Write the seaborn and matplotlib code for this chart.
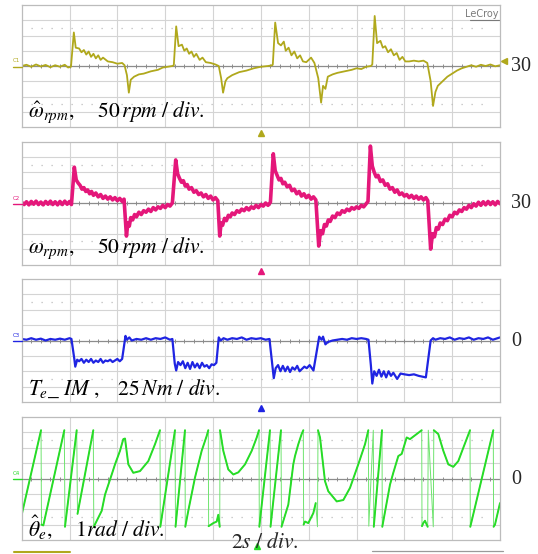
import numpy as np
import pandas as pd
import matplotlib
matplotlib.use("Agg")
import matplotlib.pyplot as plt
from matplotlib.lines import Line2D
import seaborn as sns

# ---------------- data (time in divisions, 2 s/div; values in divisions) -------------
# Panel 1: estimated speed  (50 rpm/div, centre = 30 rpm)
w_hat_t = [0.00, 0.10, 0.20, 0.30, 0.40, 0.50, 0.60, 0.70, 0.80, 0.90, 0.97, 1.03,
           1.09, 1.13, 1.20, 1.25, 1.30, 1.35, 1.40, 1.45, 1.50, 1.55, 1.60, 1.65, 1.70, 1.80, 1.90, 2.00, 2.10, 2.15,
           2.20, 2.24, 2.28, 2.35, 2.45, 2.55, 2.70, 2.85, 2.95, 3.05, 3.15,
           3.18, 3.23, 3.28, 3.35, 3.40, 3.45, 3.50, 3.55, 3.60, 3.65, 3.72, 3.78, 3.85, 3.95, 4.05, 4.12,
           4.17, 4.21, 4.26, 4.30, 4.40, 4.55, 4.70, 4.85, 5.00, 5.15, 5.24,
           5.25, 5.30, 5.36, 5.42, 5.48, 5.52, 5.58, 5.64, 5.70, 5.76, 5.82, 5.88, 5.95, 6.05, 6.12,
           6.20, 6.26, 6.30, 6.35, 6.40, 6.50, 6.60, 6.75, 6.90, 7.00, 7.10, 7.20, 7.30,
           7.33, 7.38, 7.43, 7.50, 7.55, 7.60, 7.66, 7.72, 7.78, 7.84, 7.90, 7.96, 8.02, 8.10, 8.20, 8.30, 8.40, 8.48,
           8.55, 8.60, 8.65, 8.70, 8.80, 8.90, 9.00, 9.10, 9.20, 9.30, 9.40, 9.50, 9.60, 9.70, 9.80, 9.90, 10.00]
w_hat_v = [0.00, 0.08, -0.05, 0.10, -0.03, 0.07, -0.08, 0.05, -0.05, 0.08, -0.10, -0.05,
           2.20, 1.20, 1.15, 0.90, 1.05, 0.75, 0.95, 0.60, 0.80, 0.50, 0.70, 0.40, 0.55, 0.30, 0.25, 0.15, 0.20, 0.05,
           -0.60, -1.75, -0.90, -0.70, -0.55, -0.50, -0.35, -0.25, -0.10, -0.05, 0.00,
           0.05, 2.60, 1.30, 1.40, 1.00, 1.15, 0.80, 0.95, 0.60, 0.80, 0.40, 0.55, 0.25, 0.20, 0.10, 0.00,
           -0.80, -1.75, -1.00, -0.80, -0.60, -0.40, -0.30, -0.15, -0.05, 0.00, 0.05,
           0.10, 2.85, 1.50, 1.35, 1.60, 1.00, 1.20, 0.70, 0.95, 0.50, 0.70, 0.30, 0.25, 0.55, 0.20,
           -0.80, -2.40, -1.30, -1.50, -0.70, -0.55, -0.45, -0.35, -0.25, -0.15, -0.20, -0.05, 0.00,
           0.10, 3.28, 1.50, 1.65, 1.20, 1.30, 0.90, 1.10, 0.70, 0.85, 0.40, 0.60, 0.30, 0.30, 0.35, 0.30, 0.35, 0.20,
           -1.00, -2.62, -1.70, -1.30, -1.00, -0.70, -0.50, -0.30, -0.15, -0.05, 0.05, -0.05, 0.08, 0.00, 0.10, -0.02, 0.05]

# Panel 2: measured speed (50 rpm/div, centre = 30 rpm)
w_t = [0.00, 0.05, 0.10, 0.15, 0.20, 0.25, 0.30, 0.35, 0.40, 0.45, 0.50, 0.55, 0.60, 0.65, 0.70, 0.75,
       0.80, 0.85, 0.90, 0.95, 1.00, 1.04,
       1.10, 1.14, 1.18, 1.22, 1.26, 1.30, 1.34, 1.38, 1.42, 1.46, 1.50, 1.55, 1.60, 1.65, 1.70, 1.75,
       1.80, 1.85, 1.90, 1.95, 2.00, 2.05, 2.10, 2.14,
       2.19, 2.22, 2.25, 2.28, 2.32, 2.36, 2.40, 2.45, 2.50, 2.55, 2.60, 2.65, 2.70, 2.75, 2.80, 2.85,
       2.90, 2.95, 3.00, 3.05, 3.10, 3.15,
       3.22, 3.26, 3.30, 3.34, 3.38, 3.42, 3.46, 3.50, 3.55, 3.60, 3.65, 3.70, 3.75, 3.80, 3.85, 3.90,
       3.95, 4.00, 4.05, 4.10,
       4.14, 4.17, 4.20, 4.24, 4.28, 4.32, 4.36, 4.40, 4.45, 4.50, 4.55, 4.60, 4.65, 4.70, 4.75, 4.80,
       4.85, 4.90, 4.95, 5.00, 5.05, 5.10, 5.15, 5.20,
       5.26, 5.30, 5.34, 5.38, 5.42, 5.46, 5.50, 5.55, 5.60, 5.65, 5.70, 5.75, 5.80, 5.85, 5.90, 5.95,
       6.00, 6.05, 6.10, 6.15,
       6.21, 6.25, 6.29, 6.33, 6.37, 6.41, 6.45, 6.50, 6.55, 6.60, 6.65, 6.70, 6.75, 6.80, 6.85, 6.90,
       6.95, 7.00, 7.05, 7.10, 7.15, 7.20, 7.24,
       7.29, 7.33, 7.37, 7.41, 7.45, 7.50, 7.55, 7.60, 7.65, 7.70, 7.75, 7.80, 7.85, 7.90, 7.95, 8.00,
       8.05, 8.10, 8.15, 8.20, 8.25, 8.30, 8.35, 8.40, 8.45, 8.49,
       8.55, 8.59, 8.63, 8.67, 8.71, 8.75, 8.80, 8.85, 8.90, 8.95, 9.00, 9.05, 9.10, 9.15, 9.20, 9.25,
       9.30, 9.35, 9.40, 9.45, 9.50, 9.55, 9.60, 9.65, 9.70, 9.75, 9.80, 9.85, 9.90, 9.95, 10.00]
w_v = [0.05, -0.10, 0.08, -0.12, 0.10, -0.08, 0.12, -0.10, 0.06, -0.12, 0.10, -0.08, 0.12, -0.10, 0.08, -0.12,
       0.10, -0.10, 0.12, -0.08, 0.10, -0.10,
       2.33, 1.50, 1.30, 1.15, 0.90, 1.00, 0.75, 0.85, 0.60, 0.75, 0.50, 0.65, 0.40, 0.55, 0.30, 0.45,
       0.25, 0.40, 0.20, 0.35, 0.15, 0.30, 0.10, 0.25,
       -2.15, -1.30, -1.50, -0.95, -1.10, -0.75, -0.90, -0.60, -0.75, -0.50, -0.60, -0.40, -0.55, -0.30, -0.45, -0.25,
       -0.35, -0.15, -0.30, -0.10, -0.20, 0.00,
       2.80, 1.90, 1.60, 1.35, 1.45, 1.10, 1.20, 0.90, 1.00, 0.70, 0.80, 0.55, 0.65, 0.40, 0.55, 0.30,
       0.45, 0.20, 0.35, 0.15,
       -2.15, -1.30, -1.45, -1.00, -1.15, -0.80, -0.90, -0.65, -0.75, -0.50, -0.60, -0.40, -0.50, -0.30, -0.45, -0.25,
       -0.35, -0.15, -0.30, -0.10, -0.20, 0.00, -0.15, 0.05,
       3.20, 2.10, 1.80, 1.50, 1.60, 1.25, 1.35, 1.05, 1.15, 0.80, 0.90, 0.60, 0.75, 0.45, 0.60, 0.35,
       0.50, 0.25, 0.40, 0.20,
       -2.80, -1.80, -2.00, -1.40, -1.50, -1.10, -1.20, -0.85, -0.95, -0.65, -0.75, -0.50, -0.60, -0.40, -0.50, -0.30,
       -0.40, -0.25, -0.35, -0.15, -0.25, -0.05, 0.10,
       3.70, 2.40, 2.00, 1.70, 1.80, 1.40, 1.50, 1.15, 1.25, 0.90, 1.00, 0.70, 0.85, 0.55, 0.65, 0.45,
       0.55, 0.35, 0.50, 0.30, 0.45, 0.25, 0.40, 0.20, 0.35, 0.15,
       -3.00, -2.00, -2.20, -1.60, -1.70, -1.30, -1.40, -1.05, -1.15, -0.80, -0.90, -0.60, -0.70, -0.45, -0.55, -0.30,
       -0.40, -0.15, -0.30, -0.05, -0.20, 0.05, -0.15, 0.08, -0.12, 0.10, -0.10, 0.08, -0.12, 0.10, -0.05]

# Panel 3: electromagnetic torque (25 Nm/div, centre = 0)
te_t = [0.00, 0.10, 0.20, 0.30, 0.40, 0.50, 0.60, 0.70, 0.80, 0.90, 1.00, 1.04,
        1.10, 1.12, 1.16, 1.20, 1.25, 1.30, 1.35, 1.40, 1.45, 1.50, 1.55, 1.60, 1.65, 1.70, 1.75, 1.80,
        1.85, 1.90, 1.95, 2.00, 2.05, 2.10,
        2.17, 2.20, 2.25, 2.30, 2.40, 2.50, 2.60, 2.70, 2.80, 2.90, 3.00, 3.10, 3.15,
        3.20, 3.23, 3.27, 3.32, 3.37, 3.42, 3.47, 3.52, 3.57, 3.62, 3.67, 3.72, 3.77, 3.82, 3.87, 3.92,
        3.97, 4.02, 4.07,
        4.12, 4.16, 4.22, 4.30, 4.40, 4.50, 4.60, 4.70, 4.80, 4.90, 5.00, 5.10, 5.18,
        5.24, 5.27, 5.31, 5.36, 5.41, 5.46, 5.51, 5.56, 5.61, 5.66, 5.71, 5.76, 5.81, 5.86, 5.91, 5.96,
        6.02, 6.10,
        6.22, 6.27, 6.30, 6.35, 6.40, 6.50, 6.60, 6.70, 6.80, 6.90, 7.00, 7.10, 7.20, 7.25,
        7.30, 7.33, 7.37, 7.42, 7.47, 7.52, 7.57, 7.62, 7.67, 7.72, 7.77, 7.85, 7.92, 8.00, 8.10, 8.20,
        8.30, 8.38, 8.45,
        8.55, 8.60, 8.65, 8.75, 8.85, 8.95, 9.05, 9.15, 9.25, 9.35, 9.45, 9.55, 9.65, 9.75, 9.85, 9.95, 10.00]
te_v = [0.10, 0.05, 0.15, 0.05, 0.12, 0.00, 0.10, 0.05, 0.12, 0.05, 0.15, 0.10,
        -1.20, -1.70, -1.25, -1.35, -1.20, -1.45, -1.25, -1.40, -1.20, -1.45, -1.30, -1.40, -1.20, -1.45, -1.30, -1.35,
        -1.25, -1.40, -1.30, -1.20, -1.35, -1.20,
        0.30, 0.05, 0.20, 0.00, 0.10, 0.05, 0.15, 0.05, 0.15, 0.10, 0.20, 0.05, 0.10,
        -1.50, -1.95, -1.40, -1.60, -1.35, -1.80, -1.45, -1.85, -1.40, -1.75, -1.50, -1.80, -1.45, -1.70, -1.60, -1.80,
        -1.55, -1.60, -1.45,
        0.20, 0.00, 0.15, 0.05, 0.15, 0.10, 0.20, 0.05, 0.15, 0.10, 0.15, 0.05, 0.10,
        -1.60, -2.45, -1.80, -1.60, -2.00, -1.65, -2.00, -1.70, -2.05, -1.75, -1.90, -1.65, -2.00, -1.85, -1.70, -1.80,
        -1.60, -1.95,
        0.25, 0.05, 0.25, -0.25, -0.10, 0.00, 0.05, 0.10, 0.05, 0.15, 0.10, 0.15, 0.10, 0.05,
        -1.60, -2.80, -2.00, -2.30, -1.90, -2.35, -2.00, -2.40, -2.00, -2.30, -2.10, -2.50, -2.15, -2.20, -2.25, -2.20,
        -2.30, -2.35, -2.40,
        0.00, 0.15, 0.05, 0.15, 0.10, 0.20, 0.05, 0.15, 0.10, 0.20, 0.05, 0.15, 0.10, 0.20, 0.05, 0.15, 0.20]

# Panel 4: estimated rotor angle (1 rad/div, centre = 0)
th_t = [0.000, 0.404, 0.414, 0.452, 0.891, 0.905, 1.150, 1.167, 1.497, 1.507, 1.673, 1.742, 1.882, 1.951,
        2.055, 2.124, 2.160, 2.229, 2.333, 2.473, 2.647, 2.787, 2.891, 2.898, 3.205, 3.216, 3.414, 3.420,
        3.483, 3.623, 3.763, 3.868, 3.901, 3.908, 4.006, 4.077, 4.110, 4.140, 4.146, 4.215, 4.319, 4.424,
        4.529, 4.669, 4.809, 4.913, 4.961, 4.968, 5.191, 5.202, 5.421, 5.432, 5.574, 5.678, 5.714, 5.783,
        5.854, 5.888, 5.894, 5.923, 5.992, 6.097, 6.147, 6.184, 6.195, 6.237, 6.341, 6.410, 6.586, 6.724,
        6.864, 7.037, 7.178, 7.247, 7.257, 7.351, 7.361, 7.533, 7.539, 7.700, 7.769, 7.874, 7.945, 8.049,
        8.118, 8.258, 8.363, 8.369, 8.396, 8.432, 8.488, 8.501, 8.605, 8.616, 8.710, 8.815, 8.919, 9.024,
        9.128, 9.233, 9.373, 9.379, 9.860, 9.866, 9.895, 10.000]
th_v = [-2.36, 3.14, -3.00, -3.05, 3.14, -3.14, 3.14, -2.30, 3.14, -3.14, -2.10, -1.05, 0.26, 0.92,
        1.80, 2.56, 2.60, 0.92, 0.37, 0.48, 1.13, 2.23, 3.14, -3.14, 3.14, -3.14, 3.14, -3.14,
        -2.10, 0.06, 1.80, 2.77, 3.14, -3.10, -2.90, -2.80, -2.36, -3.14, 3.14, 1.80, 0.59, 0.26,
        0.40, 0.92, 1.80, 2.66, 3.14, -3.14, 3.14, -3.14, 3.14, -3.14, -1.70, 0.92, 1.46, 2.23,
        2.90, 3.14, -3.00, -2.80, -2.90, -2.25, -1.60, -3.14, 3.14, 2.67, -0.17, -0.83, -1.49, -1.40,
        -0.61, 0.92, 2.23, 3.14, -3.10, 3.14, -3.14, 3.14, -3.14, -0.40, 0.37, 1.46, 1.60, 2.67,
        2.56, 2.89, 3.14, -3.10, -2.90, -2.75, -3.14, 3.14, -3.14, 3.14, 2.89, 1.80, 0.92, 0.76,
        1.13, 2.00, 3.14, -3.14, 3.14, -3.14, -3.00, -1.60]

panel_labels = [r'$\hat{\omega}_{rpm},\ \ \ \ 50\,rpm\ /\ div.$',
                r'$\omega_{rpm},\ \ \ \ 50\,rpm\ /\ div.$',
                r'$T_e\_\ IM\ ,\ \ \ 25\,Nm\ /\ div.$',
                r'$\hat{\theta}_e,\ \ \ \ 1rad\ /\ div.$']
right_labels = ['30', '30', '0', '0']
channel_names = ['C1', 'C2', 'C3', 'C4']
colors = ['#b0a81c', '#e4177a', '#1f24e2', '#27dc27']
time_label = r'$2s\ /\ div.$'

# ---------------- styling --------------------------------------------------------
sns.set_theme(style="white")
plt.rcParams['font.family'] = ['Liberation Serif', 'DejaVu Serif']
plt.rcParams['mathtext.fontset'] = 'stix'

W, H = 538, 554
fig = plt.figure(figsize=(W / 100, H / 100), dpi=100)
fig.patch.set_facecolor('white')

x0, x1 = 21.7, 500.0
panel_px = [(5.0, 127.0), (141.5, 264.5), (279.0, 402.0), (417.0, 540.0)]

def fx(px):
    return px / W

def fy(py):
    return 1 - py / H

axes = []
for (top, bot) in panel_px:
    ax = fig.add_axes([fx(x0), fy(bot), (x1 - x0) / W, (bot - top) / H])
    ax.set_xlim(0, 10)
    ax.set_ylim(-4, 4)
    ax.set_xticks([])
    ax.set_yticks([])
    for v in range(1, 10):
        ax.axvline(v, color='#d4d4d4', lw=0.8, zorder=0)
    for h in [-3, -2, -1, 1, 2, 3]:
        ax.axhline(h, color='#d4d4d4', lw=0.8, zorder=0)
    for h in [-2.5, 2.5]:
        ax.axhline(h, xmin=0.02, xmax=0.98, color='#bdbdbd', lw=0.9, ls=(0, (1, 7)), zorder=0)
    ax.axhline(0, color='#8c8c8c', lw=0.9, zorder=0)
    tk = np.arange(0.2, 10, 0.2)
    ax.plot(tk, np.zeros_like(tk), '|', color='#8c8c8c', ms=3.5, mew=0.7, zorder=0)
    for s in ax.spines.values():
        s.set_color('#bcbcbc')
        s.set_linewidth(0.9)
    axes.append(ax)

# traces
sns.lineplot(x=w_hat_t, y=w_hat_v, ax=axes[0], color=colors[0], lw=1.3,
             sort=False, estimator=None)
sns.lineplot(x=w_t, y=w_v, ax=axes[1], color=colors[1], lw=2.6,
             sort=False, estimator=None)
sns.lineplot(x=te_t, y=te_v, ax=axes[2], color=colors[2], lw=1.6,
             sort=False, estimator=None)

# theta: thin wrap lines + thicker sloped segments
th_df = pd.DataFrame({'t': th_t, 'v': th_v})
sns.lineplot(data=th_df, x='t', y='v', ax=axes[3], color='#6fe46f', lw=0.7,
             sort=False, estimator=None)
slope = np.abs(np.diff(th_df['v'])) / np.maximum(np.diff(th_df['t']), 1e-6)
breaks = np.where(slope > 40)[0]
start = 0
for b in list(breaks) + [len(th_df) - 1]:
    seg = th_df.iloc[start:b + 1]
    if len(seg) > 1:
        sns.lineplot(data=seg, x='t', y='v', ax=axes[3], color=colors[3], lw=1.4,
                     sort=False, estimator=None)
    start = b + 1

label_y = [0.125, 0.135, 0.11, 0.10]
for ax, lab, ly in zip(axes, panel_labels, label_y):
    ax.set_xlabel('')
    ax.set_ylabel('')
    ax.text(0.013, ly, lab, transform=ax.transAxes, fontsize=15.5, va='center', ha='left',
            color='black', zorder=5)

# right side labels
for (top, bot), lab in zip(panel_px, right_labels):
    fig.text(fx(511), fy((top + bot) / 2 + 1), lab, fontsize=14.5, va='center', ha='left',
             family='Liberation Serif')

# channel markers on the left
for (top, bot), name, c in zip(panel_px, channel_names, colors):
    cy = (top + bot) / 2
    fig.text(fx(12.5), fy(cy - 5), name, fontsize=4, color=c, va='center', ha='left',
             family='DejaVu Sans')
    fig.add_artist(Line2D([fx(13), fx(21.5)], [fy(cy + 0.5), fy(cy + 0.5)], color=c, lw=1.0))

# trigger markers below panels (drawn as markers)
for (top, bot), c in zip(panel_px[:3], colors[:3]):
    fig.add_artist(Line2D([fx(261)], [fy(bot + 6)], marker='^', ms=4, color=c, lw=0))
fig.add_artist(Line2D([fx(257)], [fy(546)], marker='^', ms=4, color=colors[3], lw=0))
fig.add_artist(Line2D([fx(504)], [fy(61)], marker='<', ms=4, color=colors[0], lw=0))

# LeCroy logo
fig.text(fx(499), fy(14), 'LeCroy', fontsize=7, color='#7a7a7a', ha='right', va='center',
         family='DejaVu Sans')
fig.add_artist(Line2D([fx(470), fx(499)], [fy(20), fy(20)], color='#7a7a7a', lw=0.8))

# time base label
fig.text(fx(231), fy(543), time_label, fontsize=15.5, va='center', ha='left')

# bottom status-bar remnants
fig.add_artist(Line2D([fx(14), fx(70)], [fy(552), fy(552)], color=colors[0], lw=1.5))
fig.add_artist(Line2D([fx(372), fx(503)], [fy(551), fy(551)], color='#9a9a9a', lw=0.9))

fig.savefig('out.png', dpi=100)
